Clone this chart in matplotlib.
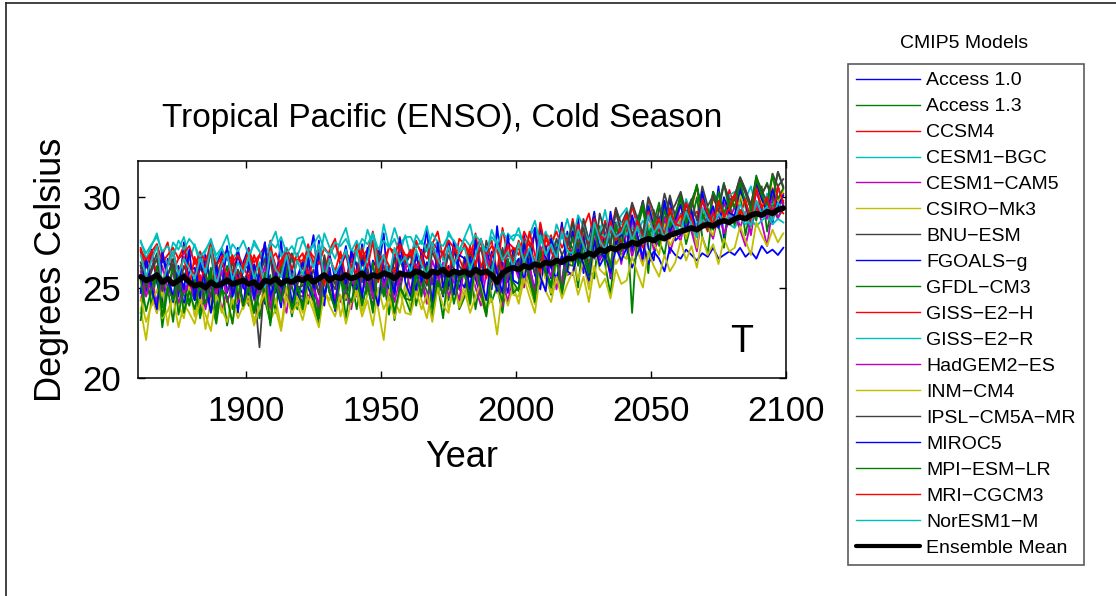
import sys
import numpy as np
import matplotlib
matplotlib.use("Agg")
import matplotlib.pyplot as plt
from matplotlib.lines import Line2D

plt.rcParams['font.family'] = ['Liberation Sans', 'DejaVu Sans']

# ---------------- data ----------------
# sample years: every second year, 1861 ... 2099
years = np.arange(1861, 2101, 2)

# cold-season temperatures, in tenths of a degree Celsius
access10 = [
    262, 248, 271, 253, 240, 266, 259, 245, 275, 250,
    243, 268, 255, 239, 262, 270, 247, 258, 236, 264,
    272, 249, 258, 241, 267, 253, 276, 244, 260, 251,
    247, 263, 279, 252, 240, 268, 255, 262, 243, 270,
    251, 274, 246, 265, 259, 280, 243, 268, 254, 262,
    270, 248, 263, 282, 251, 257, 245, 276, 260, 249,
    265, 243, 278, 254, 268, 249, 284, 257, 247, 271,
    256, 279, 262, 248, 285, 267, 255, 273, 250, 281,
    264, 289, 258, 276, 292, 267, 280, 255, 286, 273,
    291, 270, 284, 298, 272, 265, 289, 281, 300, 276,
    279, 297, 285, 272, 301, 290, 283, 306, 277, 294,
    288, 304, 296, 281, 309, 292, 299, 285, 306, 295]
access13 = [
    236, 255, 242, 262, 239, 250, 231, 258, 246, 240,
    253, 237, 259, 244, 230, 251, 262, 238, 247, 256,
    240, 262, 233, 249, 257, 236, 265, 243, 251, 238,
    258, 241, 252, 235, 263, 247, 239, 260, 244, 255,
    238, 257, 246, 264, 241, 253, 235, 261, 249, 244,
    262, 240, 255, 248, 233, 266, 250, 243, 259, 238,
    245, 264, 238, 256, 270, 242, 251, 236, 260, 253,
    248, 268, 254, 241, 270, 259, 246, 265, 252, 275,
    272, 250, 279, 261, 255, 284, 263, 246, 276, 268,
    266, 289, 270, 281, 258, 293, 276, 268, 287, 279,
    291, 274, 286, 300, 278, 269, 293, 284, 272, 297,
    284, 302, 279, 295, 287, 306, 281, 297, 289, 293]
ccsm4 = [
    272, 261, 270, 256, 268, 275, 259, 266, 273, 262,
    257, 270, 262, 276, 255, 266, 271, 258, 267, 260,
    271, 258, 268, 262, 276, 254, 265, 272, 260, 269,
    260, 274, 263, 269, 257, 271, 277, 262, 268, 255,
    275, 262, 270, 281, 264, 258, 273, 267, 278, 261,
    263, 276, 268, 259, 274, 281, 266, 271, 262, 277,
    274, 265, 280, 261, 270, 276, 258, 283, 267, 272,
    268, 281, 275, 263, 286, 271, 279, 266, 284, 273,
    288, 272, 283, 291, 276, 269, 287, 280, 294, 275,
    279, 295, 284, 273, 298, 288, 281, 296, 277, 291,
    299, 285, 294, 306, 288, 281, 300, 293, 286, 304,
    294, 307, 296, 288, 310, 299, 292, 305, 297, 302]
cesm1_bgc = [
    276, 266, 273, 280, 268, 263, 275, 271, 278, 265,
    274, 262, 270, 277, 265, 272, 279, 266, 270, 261,
    265, 276, 270, 262, 274, 281, 267, 272, 264, 277,
    278, 268, 274, 263, 280, 272, 266, 276, 283, 270,
    276, 268, 282, 273, 266, 285, 272, 277, 269, 279,
    267, 279, 274, 284, 270, 276, 265, 281, 275, 270,
    278, 285, 271, 276, 268, 282, 274, 266, 280, 276,
    283, 272, 279, 287, 274, 281, 270, 285, 277, 288,
    276, 290, 284, 272, 288, 280, 293, 277, 285, 290,
    294, 282, 290, 279, 296, 286, 283, 298, 288, 292,
    286, 299, 291, 284, 302, 293, 288, 297, 290, 301,
    303, 291, 299, 306, 294, 290, 302, 296, 305, 297]
cesm1_cam5 = [
    243, 257, 248, 236, 254, 246, 260, 241, 252, 247,
    255, 240, 251, 244, 258, 237, 249, 256, 242, 253,
    241, 256, 246, 253, 238, 259, 244, 250, 235, 255,
    257, 244, 252, 239, 261, 247, 255, 242, 250, 258,
    245, 259, 250, 240, 262, 254, 243, 257, 248, 264,
    260, 247, 256, 242, 259, 251, 264, 245, 253, 249,
    246, 261, 250, 240, 258, 265, 247, 255, 242, 259,
    265, 250, 262, 247, 270, 255, 263, 249, 268, 257,
    258, 274, 262, 252, 277, 265, 271, 256, 279, 263,
    282, 267, 278, 263, 285, 271, 276, 288, 269, 280,
    276, 290, 281, 270, 293, 284, 277, 291, 280, 287,
    295, 283, 292, 279, 298, 286, 273, 294, 288, 296]
csiro_mk3 = [
    238, 221, 245, 236, 250, 229, 247, 240, 233, 252,
    234, 248, 227, 243, 251, 236, 244, 230, 249, 238,
    247, 232, 239, 253, 235, 244, 228, 250, 237, 245,
    236, 251, 240, 230, 248, 243, 255, 234, 246, 239,
    250, 237, 246, 255, 238, 221, 249, 243, 236, 252,
    239, 254, 243, 233, 251, 247, 258, 238, 249, 242,
    252, 240, 257, 244, 235, 255, 248, 241, 258, 246,
    245, 260, 250, 241, 263, 255, 247, 266, 252, 258,
    268, 254, 265, 249, 272, 260, 257, 274, 263, 268,
    266, 281, 270, 262, 285, 275, 268, 286, 273, 279,
    290, 277, 288, 272, 294, 283, 279, 297, 286, 291,
    288, 301, 294, 283, 305, 297, 290, 313, 296, 304]
bnu_esm = [
    264, 252, 261, 269, 250, 257, 266, 248, 262, 255,
    249, 263, 255, 270, 246, 259, 252, 265, 244, 260,
    262, 250, 217, 258, 266, 247, 260, 253, 269, 251,
    265, 252, 260, 246, 268, 255, 249, 263, 271, 257,
    254, 267, 258, 249, 272, 261, 255, 266, 250, 264,
    268, 255, 263, 274, 252, 266, 259, 249, 270, 262,
    257, 270, 261, 253, 276, 264, 258, 272, 255, 268,
    275, 262, 271, 280, 266, 258, 277, 269, 284, 272,
    284, 270, 288, 276, 266, 291, 280, 273, 294, 285,
    292, 279, 287, 298, 281, 275, 294, 286, 301, 289,
    302, 288, 298, 306, 291, 284, 303, 296, 307, 299,
    298, 309, 302, 293, 311, 304, 297, 313, 306, 310]
fgoals_g = [
    248, 266, 253, 241, 270, 257, 245, 262, 239, 259,
    261, 244, 268, 250, 237, 264, 255, 247, 272, 250,
    246, 263, 251, 275, 243, 258, 249, 266, 241, 256,
    264, 250, 243, 269, 256, 261, 239, 258, 273, 252,
    249, 265, 258, 244, 270, 252, 262, 246, 268, 255,
    263, 248, 271, 256, 243, 266, 259, 251, 276, 254,
    250, 267, 255, 245, 272, 259, 248, 264, 253, 261,
    266, 254, 270, 257, 249, 273, 261, 255, 268, 259,
    257, 271, 263, 254, 276, 262, 268, 258, 272, 265,
    272, 261, 269, 275, 263, 270, 266, 259, 272, 268,
    266, 271, 268, 265, 269, 267, 272, 266, 268, 270,
    268, 272, 267, 270, 266, 273, 269, 271, 268, 272]
gfdl_cm3 = [
    232, 256, 240, 259, 228, 249, 262, 235, 251, 242,
    255, 233, 248, 261, 237, 252, 229, 246, 258, 240,
    250, 236, 262, 243, 231, 256, 245, 260, 234, 251,
    238, 257, 244, 230, 263, 248, 240, 258, 233, 254,
    259, 240, 253, 236, 262, 247, 258, 232, 251, 244,
    236, 258, 245, 264, 240, 252, 233, 260, 247, 255,
    258, 241, 264, 247, 234, 261, 252, 243, 266, 249,
    249, 268, 255, 242, 272, 258, 250, 270, 246, 263,
    262, 281, 268, 256, 285, 272, 264, 288, 270, 279,
    288, 236, 283, 294, 275, 286, 297, 278, 292, 284,
    301, 286, 296, 307, 289, 282, 303, 295, 308, 292,
    300, 311, 304, 294, 312, 301, 308, 297, 314, 306]
giss_e2_h = [
    271, 265, 270, 274, 264, 268, 272, 266, 269, 273,
    263, 269, 265, 271, 262, 267, 270, 264, 268, 262,
    270, 264, 268, 273, 265, 269, 262, 271, 267, 265,
    265, 271, 267, 263, 272, 268, 274, 266, 270, 264,
    273, 267, 271, 276, 268, 265, 272, 270, 274, 268,
    268, 274, 270, 266, 275, 271, 269, 276, 272, 267,
    274, 269, 272, 277, 268, 273, 270, 266, 275, 272,
    271, 277, 273, 279, 270, 276, 274, 281, 272, 278,
    282, 276, 280, 274, 284, 279, 277, 286, 281, 283,
    280, 287, 284, 279, 289, 282, 286, 281, 288, 285,
    290, 284, 288, 292, 286, 283, 291, 287, 289, 293,
    287, 293, 289, 285, 294, 290, 292, 288, 295, 291]
giss_e2_r = [
    275, 269, 274, 278, 270, 273, 267, 276, 271, 277,
    273, 267, 271, 276, 268, 272, 265, 274, 270, 276,
    268, 274, 270, 266, 275, 272, 278, 269, 273, 267,
    276, 270, 274, 279, 271, 268, 275, 273, 277, 270,
    270, 277, 274, 280, 271, 276, 272, 283, 274, 278,
    278, 272, 276, 270, 280, 275, 273, 279, 276, 271,
    277, 273, 279, 275, 270, 278, 274, 281, 276, 279,
    279, 274, 278, 283, 275, 280, 277, 273, 282, 278,
    283, 277, 281, 276, 285, 280, 278, 284, 281, 286,
    279, 285, 281, 287, 283, 278, 286, 282, 284, 280,
    287, 282, 285, 281, 288, 284, 286, 283, 289, 285,
    283, 289, 285, 288, 284, 287, 290, 285, 288, 286]
hadgem2_es = [
    259, 245, 256, 241, 262, 250, 244, 258, 247, 253,
    244, 257, 238, 253, 246, 260, 242, 251, 256, 240,
    257, 243, 252, 262, 239, 255, 248, 236, 258, 246,
    245, 260, 249, 241, 263, 253, 244, 258, 250, 238,
    261, 247, 257, 244, 266, 250, 259, 242, 255, 262,
    248, 263, 252, 241, 265, 256, 246, 261, 253, 243,
    263, 249, 258, 245, 268, 253, 261, 240, 257, 264,
    255, 270, 258, 248, 273, 263, 256, 268, 251, 266,
    278, 263, 274, 259, 282, 268, 275, 262, 280, 270,
    273, 287, 278, 266, 290, 281, 275, 289, 279, 284,
    296, 282, 291, 278, 299, 287, 293, 283, 297, 288,
    290, 282, 273, 287, 303, 294, 288, 301, 295, 298]
inm_cm4 = [
    244, 231, 240, 249, 233, 237, 245, 228, 241, 236,
    230, 243, 235, 226, 246, 238, 231, 244, 233, 240,
    243, 229, 240, 247, 232, 238, 226, 245, 236, 241,
    232, 245, 237, 228, 249, 240, 234, 246, 230, 242,
    247, 234, 243, 229, 250, 238, 245, 233, 248, 236,
    235, 248, 238, 246, 231, 250, 240, 236, 252, 239,
    248, 236, 245, 253, 238, 244, 224, 249, 240, 251,
    241, 255, 245, 236, 258, 248, 242, 256, 244, 252,
    259, 246, 256, 242, 262, 250, 255, 244, 260, 252,
    254, 267, 258, 250, 270, 262, 256, 268, 259, 264,
    276, 265, 273, 261, 278, 268, 274, 263, 277, 270,
    272, 284, 276, 268, 286, 279, 273, 282, 275, 280]
ipsl_cm5a_mr = [
    262, 250, 259, 266, 248, 257, 263, 251, 258, 254,
    248, 261, 255, 245, 264, 252, 258, 247, 260, 253,
    260, 249, 257, 266, 251, 254, 245, 262, 256, 250,
    251, 263, 254, 247, 265, 258, 252, 260, 249, 262,
    264, 253, 261, 248, 268, 256, 262, 250, 266, 257,
    255, 267, 258, 251, 270, 262, 256, 268, 260, 254,
    267, 256, 264, 272, 258, 263, 254, 270, 262, 266,
    262, 275, 266, 258, 280, 270, 264, 277, 268, 274,
    286, 273, 283, 270, 290, 278, 285, 274, 292, 281,
    284, 297, 288, 280, 300, 292, 286, 302, 291, 296,
    303, 291, 299, 287, 306, 295, 301, 292, 307, 298,
    301, 311, 304, 296, 310, 302, 307, 299, 314, 305]
miroc5 = [
    247, 265, 250, 238, 268, 255, 242, 261, 249, 271,
    243, 266, 251, 236, 262, 248, 273, 245, 257, 240,
    264, 244, 258, 275, 246, 252, 239, 269, 255, 247,
    241, 267, 250, 276, 245, 259, 237, 264, 252, 270,
    262, 244, 272, 251, 240, 268, 256, 247, 277, 253,
    245, 270, 253, 264, 240, 275, 250, 262, 246, 268,
    266, 249, 276, 255, 243, 270, 258, 247, 279, 254,
    252, 274, 260, 283, 256, 248, 277, 264, 286, 259,
    281, 263, 278, 257, 289, 270, 266, 292, 274, 280,
    273, 290, 279, 266, 295, 284, 276, 298, 281, 288,
    296, 281, 293, 279, 303, 287, 295, 283, 300, 291,
    290, 305, 296, 284, 308, 299, 292, 304, 295, 301]
mpi_esm_lr = [
    254, 237, 249, 260, 234, 251, 243, 257, 236, 248,
    238, 252, 241, 258, 233, 249, 245, 230, 255, 240,
    251, 236, 247, 258, 229, 253, 242, 256, 238, 250,
    240, 255, 244, 233, 259, 247, 238, 254, 249, 242,
    255, 241, 252, 238, 261, 245, 257, 236, 250, 244,
    243, 258, 247, 262, 238, 254, 246, 260, 241, 255,
    257, 244, 262, 249, 236, 260, 252, 242, 265, 247,
    250, 268, 256, 245, 271, 259, 252, 266, 248, 264,
    278, 262, 274, 258, 283, 268, 276, 261, 285, 270,
    289, 274, 285, 296, 278, 287, 273, 293, 283, 290,
    300, 285, 296, 306, 288, 294, 282, 303, 291, 298,
    294, 308, 297, 289, 310, 301, 295, 312, 299, 305]
mri_cgcm3 = [
    270, 255, 266, 274, 252, 263, 270, 258, 267, 251,
    267, 253, 262, 271, 249, 265, 256, 268, 252, 262,
    255, 268, 259, 250, 272, 262, 256, 269, 253, 265,
    269, 256, 264, 273, 251, 266, 259, 270, 255, 263,
    257, 272, 261, 276, 253, 268, 262, 258, 274, 265,
    271, 258, 268, 253, 275, 263, 270, 257, 272, 266,
    259, 273, 262, 277, 255, 268, 271, 258, 274, 263,
    276, 263, 281, 268, 258, 279, 270, 264, 283, 272,
    270, 285, 274, 265, 288, 278, 271, 287, 276, 282,
    290, 276, 287, 272, 292, 281, 288, 278, 294, 285,
    284, 297, 288, 279, 299, 291, 285, 298, 289, 294,
    302, 290, 299, 285, 305, 294, 300, 288, 306, 297]
noresm1_m = [
    268, 256, 265, 273, 252, 262, 270, 257, 266, 260,
    255, 266, 258, 272, 251, 263, 269, 254, 264, 258,
    267, 255, 264, 250, 270, 260, 256, 268, 253, 265,
    257, 269, 261, 274, 255, 266, 258, 263, 271, 256,
    270, 258, 266, 280, 261, 268, 256, 272, 263, 267,
    259, 271, 263, 256, 275, 266, 260, 273, 262, 270,
    272, 260, 268, 277, 263, 258, 274, 265, 270, 261,
    275, 264, 272, 262, 279, 268, 274, 266, 281, 270,
    269, 282, 273, 266, 286, 276, 271, 284, 278, 280,
    287, 276, 284, 274, 290, 280, 285, 277, 289, 283,
    282, 292, 285, 278, 294, 288, 283, 291, 286, 290,
    288, 296, 290, 284, 298, 291, 295, 287, 297, 293]
ensemble_mean = [
    256, 254, 255, 257, 253, 255, 252, 254, 256, 253,
    251, 252, 250, 253, 251, 252, 254, 252, 253, 254,
    252, 253, 250, 254, 253, 255, 252, 254, 253, 255,
    254, 256, 253, 255, 257, 254, 256, 255, 257, 255,
    256, 258, 255, 257, 256, 258, 257, 255, 258, 257,
    257, 259, 258, 256, 259, 258, 260, 257, 259, 258,
    259, 257, 260, 258, 259, 257, 253, 258, 260, 261,
    260, 262, 261, 263, 262, 264, 263, 265, 264, 266,
    266, 268, 267, 269, 268, 271, 270, 272, 271, 273,
    273, 275, 274, 276, 277, 276, 278, 277, 279, 280,
    281, 282, 283, 282, 284, 285, 284, 286, 287, 286,
    288, 289, 288, 290, 291, 290, 292, 291, 293, 294]

model_names = ["Access 1.0", "Access 1.3", "CCSM4", "CESM1\u2212BGC",
               "CESM1\u2212CAM5", "CSIRO\u2212Mk3", "BNU\u2212ESM", "FGOALS\u2212g",
               "GFDL\u2212CM3", "GISS\u2212E2\u2212H", "GISS\u2212E2\u2212R",
               "HadGEM2\u2212ES", "INM\u2212CM4", "IPSL\u2212CM5A\u2212MR",
               "MIROC5", "MPI\u2212ESM\u2212LR", "MRI\u2212CGCM3", "NorESM1\u2212M"]
model_series = [access10, access13, ccsm4, cesm1_bgc, cesm1_cam5, csiro_mk3,
                bnu_esm, fgoals_g, gfdl_cm3, giss_e2_h, giss_e2_r, hadgem2_es,
                inm_cm4, ipsl_cm5a_mr, miroc5, mpi_esm_lr, mri_cgcm3, noresm1_m]

x_ticks = [1900, 1950, 2000, 2050, 2100]
y_ticks = [20, 25, 30]

# ---------------- style ----------------
color_cycle = [(0, 0, 1), (0, 0.5, 0), (1, 0, 0), (0, 0.75, 0.75),
               (0.75, 0, 0.75), (0.75, 0.75, 0), (0.25, 0.25, 0.25)]

W, H = 1116, 596
fig = plt.figure(figsize=(W / 100, H / 100), dpi=100)
fig.patch.set_facecolor('white')

ax_l, ax_r, ax_t, ax_b = 138, 786, 161, 378
ax = fig.add_axes([ax_l / W, 1 - ax_b / H, (ax_r - ax_l) / W, (ax_b - ax_t) / H])

handles = []
for i, (name, vals) in enumerate(zip(model_names, model_series)):
    v = np.asarray(vals, dtype=float) / 10.0
    if len(v) != len(years):
        print("length mismatch", name, len(v), file=sys.stderr)
    n = min(len(v), len(years))
    h, = ax.plot(years[:n], v[:n], color=color_cycle[i % 7], lw=1.3, label=name)
    handles.append(h)
m = np.asarray(ensemble_mean, dtype=float) / 10.0
n = min(len(m), len(years))
hm, = ax.plot(years[:n], m[:n], color='black', lw=4.0, label='Ensemble Mean',
              solid_capstyle='round', solid_joinstyle='round')
handles.append(hm)

ax.set_xlim(1860, 2100)
ax.set_ylim(20, 32)
ax.set_xticks(x_ticks)
ax.set_yticks(y_ticks)
ax.tick_params(axis='both', direction='in', top=True, right=True, length=5,
               width=1, labelsize=25)
ax.tick_params(axis='x', pad=12)
ax.tick_params(axis='y', pad=12)
for s in ax.spines.values():
    s.set_linewidth(1.1)

ax.set_xlabel("Year", fontsize=26, labelpad=9)
ax.set_ylabel("Degrees Celsius", fontsize=26, labelpad=10)
ax.text((742 - ax_l) / (ax_r - ax_l), (ax_b - 342) / (ax_b - ax_t), "T",
        transform=ax.transAxes, ha='center', va='center', fontsize=27)

fig.text(442 / W, 1 - 118 / H, "Tropical Pacific (ENSO), Cold Season",
         ha='center', va='center', fontsize=24)

leg = fig.legend(handles=handles, loc='upper left',
                 bbox_to_anchor=(848 / W, 1 - 64 / H), borderaxespad=0,
                 fontsize=14, frameon=True, fancybox=False, shadow=False,
                 handlelength=3.3, handletextpad=0.33, labelspacing=0.43,
                 borderpad=0.4)
leg.get_frame().set_edgecolor('#333333')
leg.get_frame().set_linewidth(1.2)
for ln in leg.get_lines()[:-1]:
    ln.set_linewidth(1.0)
leg.get_lines()[-1].set_linewidth(3.0)
fig.text(964 / W, 1 - 43 / H, "CMIP5 Models", ha='center', va='center',
         fontsize=14)

# figure frame lines (top and left)
fig.add_artist(Line2D([6 / W, 1], [1 - 3 / H, 1 - 3 / H], transform=fig.transFigure,
                      color='#222222', lw=1.2))
fig.add_artist(Line2D([6 / W, 6 / W], [0, 1 - 3 / H], transform=fig.transFigure,
                      color='#222222', lw=1.2))

fig.savefig("out.png", dpi=100, facecolor='white')
